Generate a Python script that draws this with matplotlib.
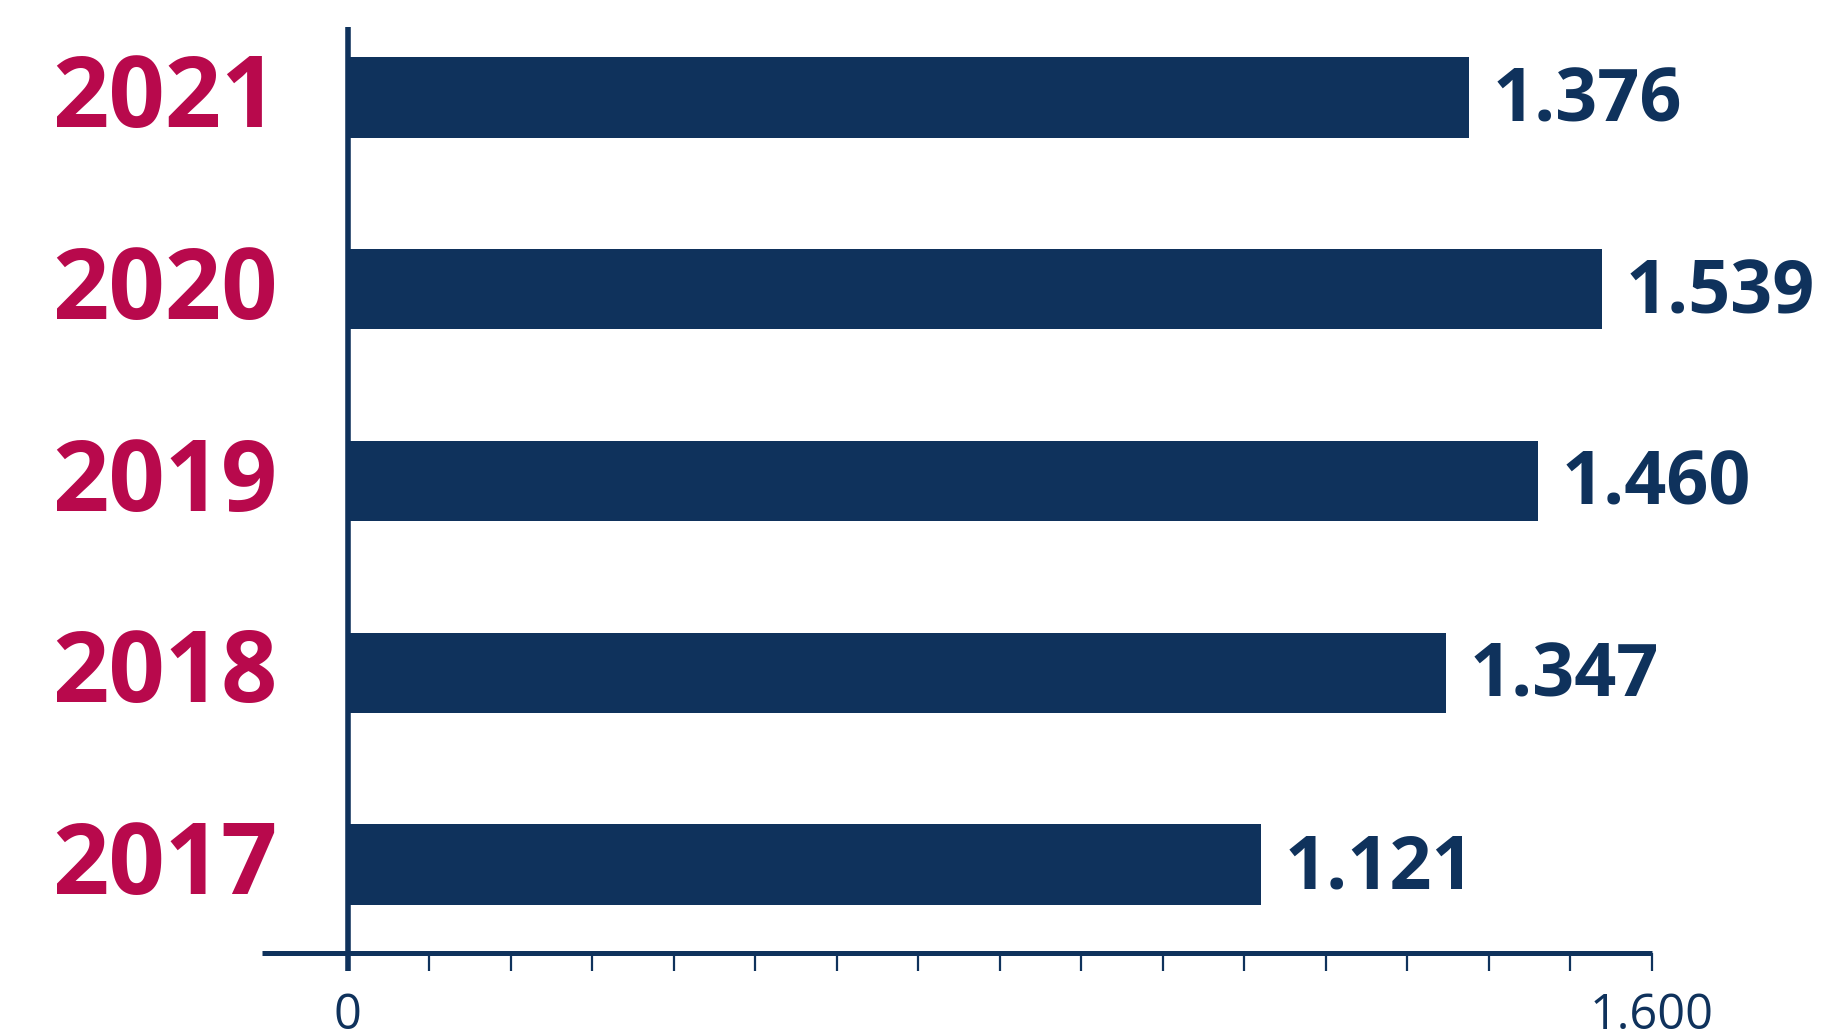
import matplotlib
matplotlib.use("Agg")
import matplotlib.pyplot as plt
import matplotlib.transforms as transforms

plt.rcParams['font.family'] = ['Open Sans', 'DejaVu Sans']

# data
years = ["2017", "2018", "2019", "2020", "2021"]
values = [1121, 1347, 1460, 1539, 1376]
value_labels = ["1.121", "1.347", "1.460", "1.539", "1.376"]
xtick_vals = list(range(0, 1700, 100))
xtick_labels = ["0"] + [""] * 15 + ["1.600"]

navy = "#0f325c"
crimson = "#b8094c"

W, H = 1825, 1031
fig = plt.figure(figsize=(W / 100, H / 100), dpi=100)
# axes placed in pixel coords
x0, x1 = 347.5, 1652
ytop, ybot = 27, 953
ax = fig.add_axes([x0 / W, 1 - ybot / H, (x1 - x0) / W, (ybot - ytop) / H])

ypos = list(range(len(years)))
ax.barh(ypos, values, height=0.42, color=navy, zorder=2)

ax.set_xlim(0, 1600)
ax.set_ylim(-0.461, 4.367)

for s in ["top", "right", "left", "bottom"]:
    ax.spines[s].set_visible(False)

# horizontal axis line, reaching a bit left of zero
ax.axhline(-0.461, xmin=-(x0 - 262) / (x1 - x0), xmax=1, color=navy, lw=3.6,
           clip_on=False, zorder=3, solid_capstyle="butt")
# vertical axis line, reaching down to tick length
ax.axvline(0, ymin=-18 / (ybot - ytop), ymax=1, color=navy, lw=4,
           clip_on=False, zorder=3, solid_capstyle="butt")

ax.set_xticks(xtick_vals)
ax.set_xticklabels(xtick_labels)
ax.tick_params(axis="x", direction="out", length=13, width=1.6, color=navy,
               labelcolor=navy, labelsize=35, pad=15)
ax.set_yticks([])

# value labels
for y, v, lab in zip(ypos, values, value_labels):
    ax.annotate(lab, (v, y), xytext=(17, -3.5), textcoords="offset points",
                ha="left", va="center", fontsize=53, fontweight="bold", color=navy)

# year labels at left
trans = transforms.blended_transform_factory(fig.transFigure, ax.transData)
trans = transforms.offset_copy(trans, fig=fig, x=0, y=-3, units="points")
for y, yr in zip(ypos, years):
    ax.text(52 / W, y, yr, transform=trans, ha="left", va="center",
            fontsize=71, fontweight="bold", color=crimson)

fig.savefig("out.png", dpi=100)
